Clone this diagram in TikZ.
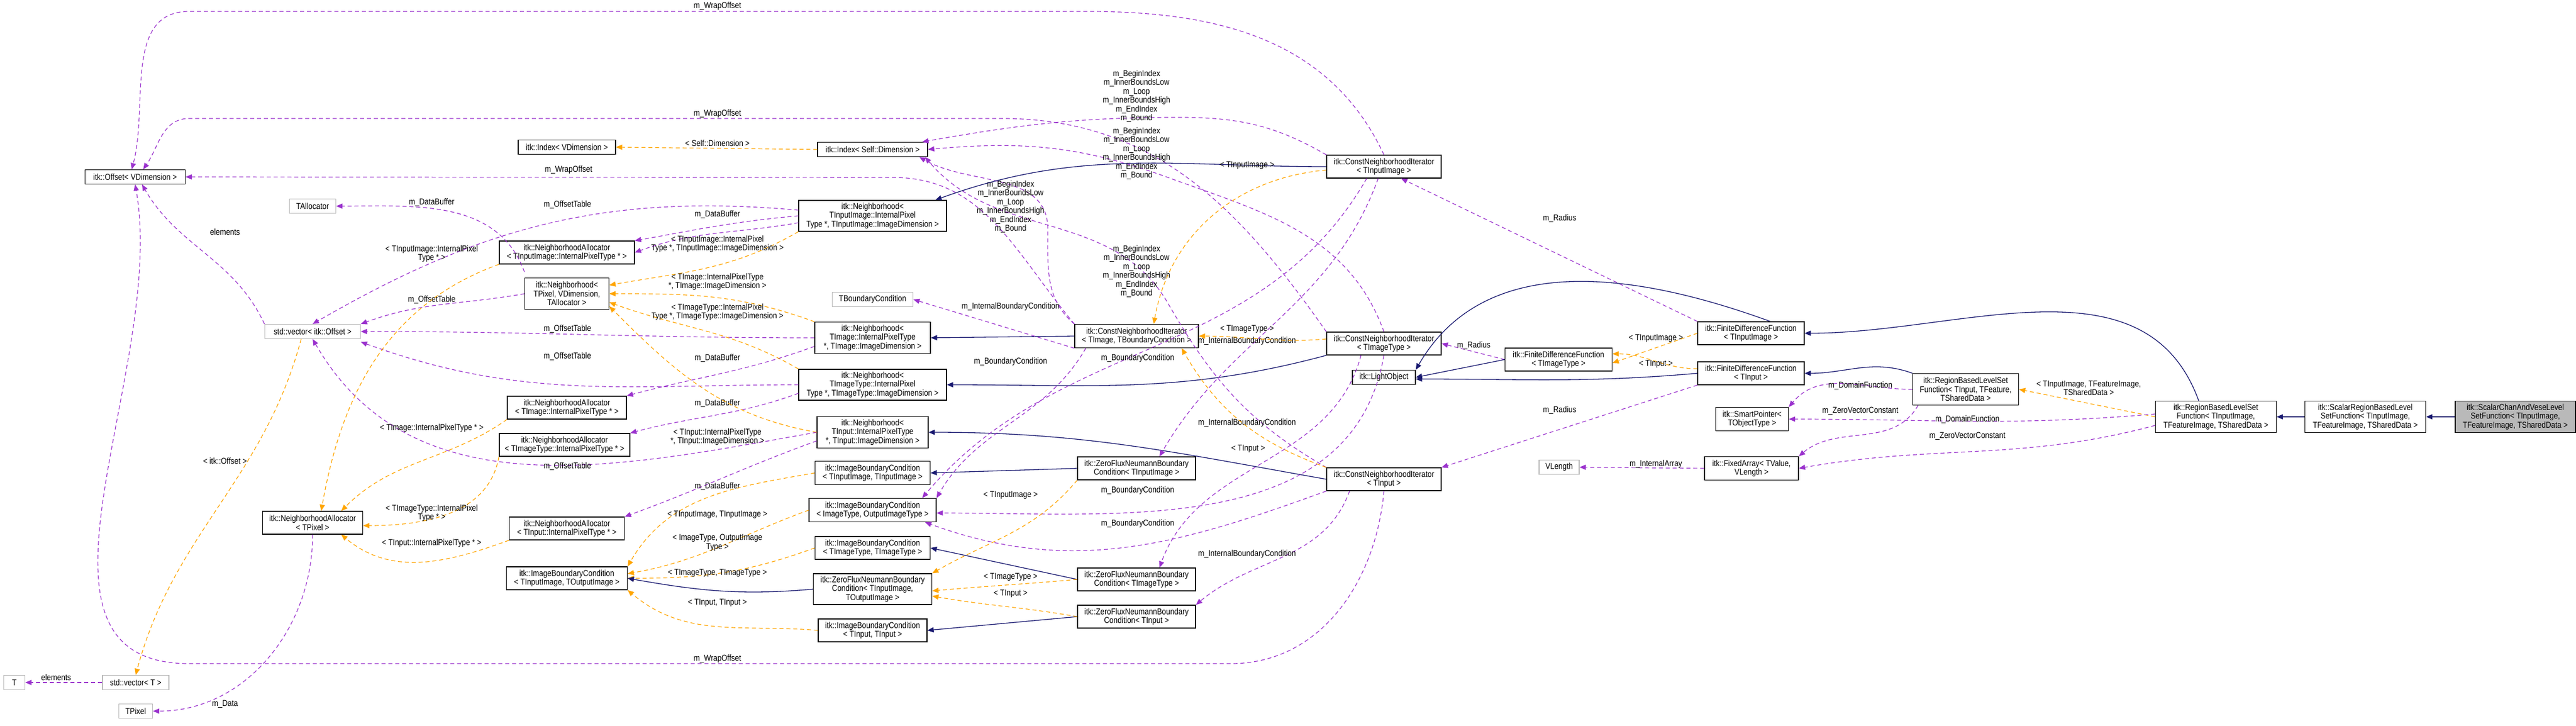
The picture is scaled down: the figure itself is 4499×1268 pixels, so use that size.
\documentclass[tikz,border=0pt]{standalone}
\usepackage{fontspec}
\setmainfont{Liberation Sans}[FakeStretch=0.86]
\usetikzlibrary{arrows.meta}
\definecolor{upurple}{HTML}{9A32CD}
\definecolor{torange}{HTML}{FFA500}
\definecolor{inavy}{HTML}{191970}
\newcommand{\fnt}{\fontsize{15}{15.5}\selectfont}
\tikzset{
 box/.style={draw=black,line width=1.3,fill=white,align=center,inner sep=2,font=\fnt},
 gbox/.style={box,draw=gray!55},
 lbl/.style={font=\fnt,align=center,inner sep=0},
 use/.style={draw=upurple,line width=1.2,dash pattern=on 7 off 5,-{Triangle[length=11,width=9]},fill=none},
 tmpl/.style={draw=torange,line width=1.2,dash pattern=on 7 off 5,-{Triangle[length=11,width=9]}},
 inh/.style={draw=inavy,line width=1.3,-{Triangle[length=11,width=9]}},
}
\begin{document}
\begin{tikzpicture}[x=1pt,y=-1pt]
\useasboundingbox (0,0) rectangle (4499,1268);
% nodes
\node[box,minimum width=175,minimum height=25] (off) at (236,309) {itk::Offset< VDimension >};
\node[box,minimum width=170,minimum height=25] (idxv) at (990,257) {itk::Index< VDimension >};
\node[gbox,minimum width=81,minimum height=25] (talloc) at (546,360) {TAllocator};
\node[box,minimum width=236,minimum height=40] (naii) at (990,441) {itk::NeighborhoodAllocator\\< TInputImage::InternalPixelType * >};
\node[box,minimum width=147,minimum height=55] (nbp) at (990,513) {itk::Neighborhood<\\ TPixel, VDimension,\\ TAllocator >};
\node[gbox,minimum width=167,minimum height=25] (vecoff) at (546,579) {std::vector< itk::Offset >};
\node[box,minimum width=208,minimum height=40] (nai) at (990,712) {itk::NeighborhoodAllocator\\< TImage::InternalPixelType * >};
\node[box,minimum width=228,minimum height=40] (nait) at (986,777) {itk::NeighborhoodAllocator\\< TImageType::InternalPixelType * >};
\node[box,minimum width=175,minimum height=40] (nap) at (546,913) {itk::NeighborhoodAllocator\\< TPixel >};
\node[box,minimum width=201,minimum height=40] (nain) at (990,923) {itk::NeighborhoodAllocator\\< TInput::InternalPixelType * >};
\node[box,minimum width=211,minimum height=40] (ibcio) at (990,1010) {itk::ImageBoundaryCondition\\< TInputImage, TOutputImage >};
\node[gbox,minimum width=37,minimum height=25] (tT) at (25,1192) {T};
\node[gbox,minimum width=116,minimum height=25] (vect) at (237,1192) {std::vector< T >};
\node[gbox,minimum width=59,minimum height=25] (tpix) at (237,1242) {TPixel};
\node[box,minimum width=192,minimum height=25] (idxs) at (1524,261) {itk::Index< Self::Dimension >};
\node[box,minimum width=258,minimum height=54] (nbii) at (1524,377) {itk::Neighborhood<\\ TInputImage::InternalPixel\\Type *, TInputImage::ImageDimension >};
\node[gbox,minimum width=141,minimum height=25] (tbc) at (1524,523) {TBoundaryCondition};
\node[box,minimum width=202,minimum height=55] (nbi) at (1524,590) {itk::Neighborhood<\\ TImage::InternalPixelType\\ *, TImage::ImageDimension >};
\node[box,minimum width=216,minimum height=41] (cnib) at (1985,587) {itk::ConstNeighborhoodIterator\\< TImage, TBoundaryCondition >};
\node[box,minimum width=258,minimum height=54] (nbit) at (1524,672) {itk::Neighborhood<\\ TImageType::InternalPixel\\Type *, TImageType::ImageDimension >};
\node[box,minimum width=194,minimum height=55] (nbin) at (1524,755) {itk::Neighborhood<\\ TInput::InternalPixelType\\ *, TInput::ImageDimension >};
\node[box,minimum width=201,minimum height=41] (ibcii) at (1524,826) {itk::ImageBoundaryCondition\\< TInputImage, TInputImage >};
\node[box,minimum width=222,minimum height=41] (ibcot) at (1524,891) {itk::ImageBoundaryCondition\\< ImageType, OutputImageType >};
\node[box,minimum width=201,minimum height=40] (ibctt) at (1524,957) {itk::ImageBoundaryCondition\\< TImageType, TImageType >};
\node[box,minimum width=207,minimum height=54] (zfio) at (1524,1029) {itk::ZeroFluxNeumannBoundary\\Condition< TInputImage,\\ TOutputImage >};
\node[box,minimum width=190,minimum height=40] (ibcin) at (1524,1101) {itk::ImageBoundaryCondition\\< TInput, TInput >};
\node[box,minimum width=206,minimum height=40] (zfi) at (1985,818) {itk::ZeroFluxNeumannBoundary\\Condition< TInputImage >};
\node[box,minimum width=206,minimum height=40] (zft) at (1985,1012) {itk::ZeroFluxNeumannBoundary\\Condition< TImageType >};
\node[box,minimum width=206,minimum height=40] (zfn) at (1985,1077) {itk::ZeroFluxNeumannBoundary\\Condition< TInput >};
\node[box,minimum width=200,minimum height=40] (cnii) at (2417,291) {itk::ConstNeighborhoodIterator\\< TInputImage >};
\node[box,minimum width=200,minimum height=40] (cnit) at (2417,600) {itk::ConstNeighborhoodIterator\\< TImageType >};
\node[box,minimum width=110,minimum height=25] (light) at (2417,659) {itk::LightObject};
\node[box,minimum width=200,minimum height=40] (cnin) at (2417,837) {itk::ConstNeighborhoodIterator\\< TInput >};
\node[box,minimum width=187,minimum height=40] (fdft) at (2722,628) {itk::FiniteDifferenceFunction\\< TImageType >};
\node[box,minimum width=186,minimum height=40] (fdfi) at (3058,582) {itk::FiniteDifferenceFunction\\< TInputImage >};
\node[box,minimum width=186,minimum height=40] (fdfn) at (3058,652) {itk::FiniteDifferenceFunction\\< TInput >};
\node[gbox,minimum width=70,minimum height=25] (vlen) at (2723,816) {VLength};
\node[box,minimum width=127,minimum height=41] (sp) at (3060,732) {itk::SmartPointer<\\ TObjectType >};
\node[box,minimum width=164,minimum height=41] (fa) at (3059,818) {itk::FixedArray< TValue,\\ VLength >};
\node[box,minimum width=185,minimum height=55] (rbn) at (3433,680) {itk::RegionBasedLevelSet\\Function< TInput, TFeature,\\ TSharedData >};
\node[box,minimum width=211,minimum height=55] (rbi) at (3870,728) {itk::RegionBasedLevelSet\\Function< TInputImage,\\ TFeatureImage, TSharedData >};
\node[box,minimum width=211,minimum height=55] (srb) at (4131,728) {itk::ScalarRegionBasedLevel\\SetFunction< TInputImage,\\ TFeatureImage, TSharedData >};
\node[box,fill=gray!55,minimum width=210,minimum height=55] (scv) at (4393,728) {itk::ScalarChanAndVeseLevel\\SetFunction< TInputImage,\\ TFeatureImage, TSharedData >};

% waypoints
\coordinate (w1a) at (1900,20); \coordinate (w1b) at (330,20);
\coordinate (w2a) at (1750,207); \coordinate (w2b) at (330,207);
\coordinate (w3a) at (1560,310);
\coordinate (w4a) at (2150,1159); \coordinate (w4b) at (330,1159);

% m_WrapOffset
\draw[use] (cnii.north) to[out=115,in=0] (w1a) -- (w1b) to[out=180,in=75] ([xshift=-6]off.north);
\draw[use] (cnit.north west) to[out=125,in=0] (w2a) -- (w2b) to[out=180,in=55] ([xshift=14]off.north);
\draw[use] (cnib.north west) to[out=130,in=0] (w3a) -- (off.east);
\draw[use] (cnin.south) to[out=-95,in=0] (w4a) -- (w4b) to[out=180,in=-80] (off.south);
\node[lbl] (lw1) at (1253,11) {m\_WrapOffset};
\node[lbl] (lw2) at (1253,199) {m\_WrapOffset};
\node[lbl] (lw3) at (993,297) {m\_WrapOffset};
\node[lbl] (lw4) at (1253,1151) {m\_WrapOffset};

% m_BeginIndex ...
\draw[use] (cnii.north west) to[out=150,in=0] (2060,205) to[out=180,in=10] ([xshift=-10]idxs.north east);
\draw[use] (cnit.north) to[out=110,in=-20] (2040,310) to[out=160,in=5] (idxs.east);
\draw[use] (cnib.north west) to[out=140,in=-90] (1830,400) to[out=90,in=-30] ([xshift=-15]idxs.south east);
\draw[use] (cnin.north west) to[out=150,in=-60] (2040,530) to[out=120,in=-50] ([xshift=-5]idxs.south east);
\node[lbl] (bA) at (1985,168) {m\_BeginIndex\\m\_InnerBoundsLow\\m\_Loop\\m\_InnerBoundsHigh\\m\_EndIndex\\m\_Bound};
\node[lbl] (bB) at (1985,268) {m\_BeginIndex\\m\_InnerBoundsLow\\m\_Loop\\m\_InnerBoundsHigh\\m\_EndIndex\\m\_Bound};
\node[lbl] (bC) at (1765,361) {m\_BeginIndex\\m\_InnerBoundsLow\\m\_Loop\\m\_InnerBoundsHigh\\m\_EndIndex\\m\_Bound};
\node[lbl] (bD) at (1985,474) {m\_BeginIndex\\m\_InnerBoundsLow\\m\_Loop\\m\_InnerBoundsHigh\\m\_EndIndex\\m\_Bound};
\draw[tmpl] (idxs.west) -- (idxv.east);
\node[lbl] (lsd) at (1253,250) {< Self::Dimension >};

% Neighborhood -> allocators / offset tables
\draw[use] (nbii.west) to[out=185,in=10] (naii.north east);
\draw[use] ([yshift=-12]nbii.west) to[out=190,in=20] (naii.east);
\draw[use] ([yshift=10]nbii.west) to[out=175,in=30] (vecoff.north);
\draw[use] (nbi.west) to[out=180,in=0] (vecoff.east);
\draw[use] ([yshift=-15]nbi.west) to[out=200,in=15] (nai.north east);
\draw[use] (nbit.west) to[out=180,in=-20] ([yshift=-5]vecoff.south east);
\draw[use] ([yshift=-15]nbit.west) to[out=200,in=15] (nait.north east);
\draw[use] (nbin.west) to[out=190,in=-60] (vecoff.south);
\draw[use] ([yshift=-15]nbin.west) to[out=200,in=20] (nain.north east);
\draw[use] (nbp.west) to[out=190,in=20] (vecoff.north east);
\draw[use] ([yshift=10]nbp.north west) to[out=110,in=0] (talloc.east);
\node[lbl] (ldb1) at (754,354) {m\_DataBuffer};
\node[lbl] (lot1) at (991,358) {m\_OffsetTable};
\node[lbl] (lot2) at (754,524) {m\_OffsetTable};
\node[lbl] (lot3) at (991,575) {m\_OffsetTable};
\node[lbl] (lot4) at (991,623) {m\_OffsetTable};
\node[lbl] (lot5) at (991,815) {m\_OffsetTable};
\node[lbl] (ldb2) at (1253,375) {m\_DataBuffer};
\node[lbl] (ldb3) at (1253,626) {m\_DataBuffer};
\node[lbl] (ldb4) at (1253,705) {m\_DataBuffer};
\node[lbl] (ldb5) at (1253,850) {m\_DataBuffer};

% vectors
\draw[use] (vecoff.north west) to[out=115,in=-60] ([xshift=12]off.south);
\node[lbl] (lel1) at (393,405) {elements};
\draw[tmpl] ([xshift=-20]vecoff.south) to[out=-105,in=75] (vect.north);
\node[lbl] (lio) at (393,805) {< itk::Offset >};
\draw[use] (vect.west) -- (tT.east);
\node[lbl] (lel2) at (98,1183) {elements};
\draw[use] (nap.south) to[out=-90,in=0] (tpix.east);
\node[lbl] (ldat) at (393,1230) {m\_Data};

% orange to NA<TPixel>
\draw[tmpl] (naii.south west) to[out=200,in=80] ([xshift=15]nap.north);
\draw[tmpl] (nai.south west) to[out=215,in=45] ([xshift=50]nap.north);
\draw[tmpl] (nait.south west) to[out=260,in=0] ([yshift=-5]nap.east);
\draw[tmpl] (nain.south west) to[out=200,in=-40] ([xshift=50]nap.south);
\node[lbl] (lna1) at (754,443) {< TInputImage::InternalPixel\\Type * >};
\node[lbl] (lna2) at (754,748) {< TImage::InternalPixelType * >};
\node[lbl] (lna3) at (754,896) {< TImageType::InternalPixel\\Type * >};
\node[lbl] (lna4) at (754,949) {< TInput::InternalPixelType * >};

% orange to Neighborhood<TPixel>
\draw[tmpl] (nbii.south west) to[out=210,in=10] ([yshift=15]nbp.east);
\draw[tmpl] (nbi.north west) to[out=160,in=0] (nbp.east);
\draw[tmpl] (nbit.north west) to[out=150,in=-20] ([yshift=-15]nbp.east);
\draw[tmpl] (nbin.west) to[out=170,in=-45] ([yshift=-22]nbp.east);
\node[lbl] (lnb1) at (1253,426) {< TInputImage::InternalPixel\\Type *, TInputImage::ImageDimension >};
\node[lbl] (lnb2) at (1253,492) {< TImage::InternalPixelType\\*, TImage::ImageDimension >};
\node[lbl] (lnb3) at (1253,545) {< TImageType::InternalPixel\\Type *, TImageType::ImageDimension >};
\node[lbl] (lnb4) at (1253,763) {< TInput::InternalPixelType\\*, TInput::ImageDimension >};

% orange to IBC<TInputImage,TOutputImage>
\draw[tmpl] (ibcii.west) to[out=190,in=60] (ibcio.north east);
\draw[tmpl] (ibcot.west) to[out=200,in=10] ([yshift=8]ibcio.east);
\draw[tmpl] (ibctt.west) to[out=200,in=0] (ibcio.east);
\draw[tmpl] (ibcin.west) to[out=175,in=-40] (ibcio.south east);
\node[lbl] (lib1) at (1253,899) {< TInputImage, TInputImage >};
\node[lbl] (lib2) at (1253,948) {< ImageType, OutputImage\\Type >};
\node[lbl] (lib3) at (1253,1001) {< TImageType, TImageType >};
\node[lbl] (lib4) at (1253,1053) {< TInput, TInput >};

% inheritance: iterators -> neighborhoods, ZFNBC -> IBC
\draw[inh] (cnii.west) to[out=180,in=20] ([xshift=-20]nbii.north east);
\draw[inh] (cnib.west) -- (nbi.east);
\draw[inh] (cnit.south west) to[out=195,in=0] (nbit.east);
\draw[inh] (cnin.west) to[out=170,in=0] (nbin.east);
\draw[inh] (zfi.west) -- (ibcii.east);
\draw[inh] (zft.west) -- (ibctt.east);
\draw[inh] (zfn.west) -- (ibcin.east);
\draw[inh] (zfio.west) to[out=185,in=-10] (ibcio.east);

% boundary conditions
\draw[use] (cnib.south west) -- (tbc.east);
\node[lbl] (libc1) at (1765,536) {m\_InternalBoundaryCondition};
\draw[use] ([xshift=20]cnib.south west) to[out=-120,in=60] (ibcot.north east);
\draw[use] ([xshift=-30]cnii.south) to[out=-120,in=50] ([xshift=-25]ibcot.north east);
\draw[use] (cnit.south) to[out=-100,in=0] ([yshift=-5]ibcot.east);
\draw[use] (cnin.south west) to[out=200,in=-20] ([xshift=-20]ibcot.south east);
\node[lbl] (lbc1) at (1765,632) {m\_BoundaryCondition};
\node[lbl] (lbc2) at (1987,626) {m\_BoundaryCondition};
\node[lbl] (lbc3) at (1987,857) {m\_BoundaryCondition};
\node[lbl] (lbc4) at (1987,915) {m\_BoundaryCondition};
\draw[use] ([xshift=-10]cnii.south) to[out=-110,in=60] ([xshift=40]zfi.north);
\draw[use] ([xshift=-40]cnit.south) to[out=-105,in=70] ([xshift=40]zft.north);
\draw[use] ([xshift=-60]cnin.south) to[out=-110,in=40] (zfn.north east);
\node[lbl] (libc2) at (2178,596) {m\_InternalBoundaryCondition};
\node[lbl] (libc3) at (2178,739) {m\_InternalBoundaryCondition};
\node[lbl] (libc4) at (2178,968) {m\_InternalBoundaryCondition};
\draw[tmpl] (zfi.south west) to[out=-130,in=30] (zfio.north east);
\draw[tmpl] (zft.west) to[out=185,in=5] ([yshift=-3]zfio.east);
\draw[tmpl] (zfn.west) to[out=170,in=-10] ([yshift=-12]zfio.east);
\node[lbl] (lzf1) at (1765,865) {< TInputImage >};
\node[lbl] (lzf2) at (1765,1008) {< TImageType >};
\node[lbl] (lzf3) at (1765,1037) {< TInput >};
\draw[tmpl] ([yshift=-6]cnii.west) to[out=185,in=80] ([xshift=30]cnib.north);
\draw[tmpl] ([yshift=8]cnit.west) to[out=185,in=0] (cnib.east);
\draw[tmpl] (cnin.north west) to[out=160,in=-60] ([xshift=-30]cnib.south east);
\node[lbl] (lci1) at (2178,289) {< TInputImage >};
\node[lbl] (lci2) at (2178,575) {< TImageType >};
\node[lbl] (lci3) at (2180,784) {< TInput >};

% finite difference functions
\draw[use] (fdfi.north west) -- ([xshift=30]cnii.south);
\node[lbl] (lr1) at (2724,382) {m\_Radius};
\draw[use] (fdft.west) -- (cnit.east);
\node[lbl] (lr2) at (2574,604) {m\_Radius};
\draw[use] (fdfn.south west) -- (cnin.north east);
\node[lbl] (lr3) at (2724,717) {m\_Radius};
\draw[inh] (fdft.west) -- (light.east);
\draw[inh] ([xshift=-60]fdfi.north east) to[out=160,in=60] (light.north east);
\draw[inh] (fdfn.west) to[out=185,in=0] ([yshift=-3]light.east);
\draw[tmpl] (fdfi.west) -- ([yshift=-6]fdft.east);
\draw[tmpl] ([yshift=8]fdfn.west) to[out=180,in=0] ([yshift=10]fdft.east);
\node[lbl] (lf1) at (2892,591) {< TInputImage >};
\node[lbl] (lf2) at (2892,636) {< TInput >};

% region based
\draw[inh] ([xshift=-30]rbi.north) to[out=110,in=0] (fdfi.east);
\draw[inh] (rbn.north west) to[out=160,in=0] (fdfn.east);
\draw[tmpl] (rbi.west) -- (rbn.east);
\node[lbl] (lrb) at (3648,678) {< TInputImage, TFeatureImage,\\ TSharedData >};
\draw[use] (rbn.west) to[out=180,in=50] (sp.north east);
\draw[use] ([xshift=10]rbn.south west) to[out=-120,in=40] (fa.north east);
\draw[use] ([yshift=5]rbi.west) to[out=185,in=0] (sp.east);
\draw[use] ([yshift=-15]rbi.west) to[out=195,in=10] (fa.east);
\node[lbl] (ld1) at (3249,674) {m\_DomainFunction};
\node[lbl] (lz1) at (3249,718) {m\_ZeroVectorConstant};
\node[lbl] (ld2) at (3436,733) {m\_DomainFunction};
\node[lbl] (lz2) at (3436,762) {m\_ZeroVectorConstant};
\draw[use] (fa.west) -- (vlen.east);
\node[lbl] (lia) at (2892,811) {m\_InternalArray};
\draw[inh] (srb.west) -- (rbi.east);
\draw[inh] (scv.west) -- (srb.east);
\end{tikzpicture}
\end{document}
